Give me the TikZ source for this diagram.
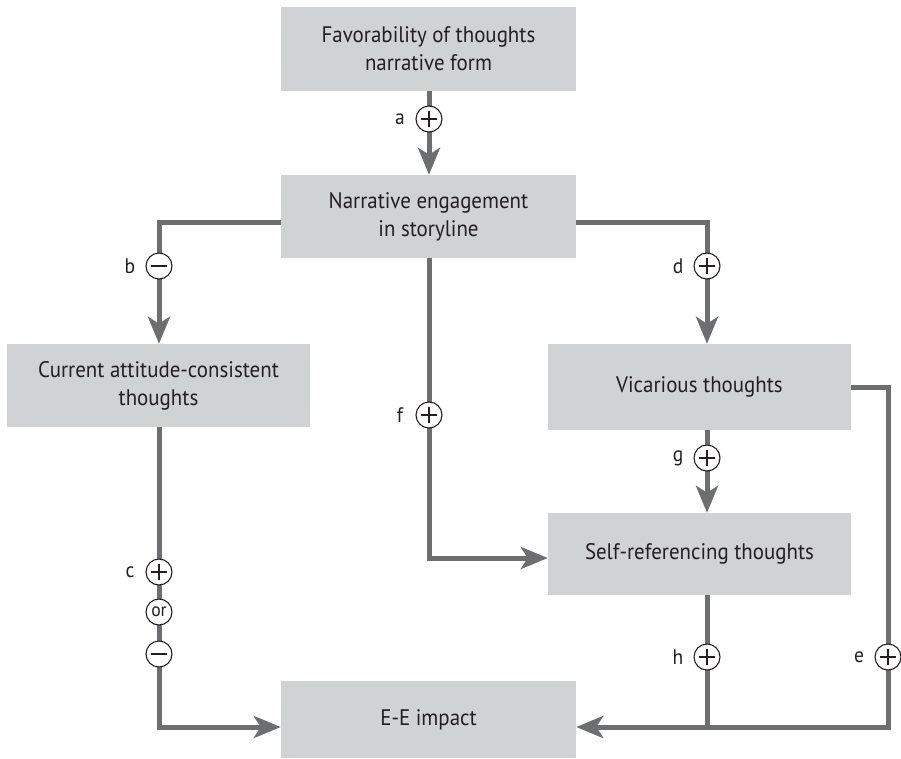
\documentclass[tikz,border=0pt]{standalone}
\usepackage{fontspec}
\setmainfont{PT Sans}[FakeStretch=0.93]
\usetikzlibrary{arrows.meta}
\definecolor{boxgray}{HTML}{D1D2D4}
\definecolor{linegray}{HTML}{6D6E71}
\definecolor{inkdark}{HTML}{231F20}
\tikzset{
  box/.style={rectangle, fill=boxgray, inner sep=0pt, align=center,
    font=\fontsize{22.5}{28}\selectfont, text=inkdark},
  link/.style={draw=linegray, line width=5pt},
  arr/.style={link, -{Stealth[length=27pt, width=22pt, inset=7pt]}},
  sign/.style={circle, draw=inkdark, line width=1.1pt, fill=white,
    minimum size=26pt, inner sep=0pt},
  plussign/.style={sign, path picture={
      \draw[inkdark, line width=1.2pt]
        ([xshift=-8pt]path picture bounding box.center) -- ([xshift=8pt]path picture bounding box.center)
        ([yshift=-8pt]path picture bounding box.center) -- ([yshift=8pt]path picture bounding box.center);}},
  minussign/.style={sign, path picture={
      \draw[inkdark, line width=1.2pt]
        ([xshift=-8pt]path picture bounding box.center) -- ([xshift=8pt]path picture bounding box.center);}},
  orsign/.style={sign, font=\fontsize{19}{19}\selectfont, text=inkdark},
  tag/.style={font=\fontsize{21}{21}\selectfont, text=inkdark, anchor=center}
}
\begin{document}
\begin{tikzpicture}[x=1pt, y=-1pt]
\useasboundingbox (0,0) rectangle (901,758);

% boxes
\node[box, minimum width=295pt, minimum height=84pt] (fav) at (428.5,49)
  {Favorability of thoughts\\narrative form};
\node[box, minimum width=295pt, minimum height=83pt] (narr) at (428.5,216.5)
  {Narrative engagement\\in storyline};
\node[box, minimum width=303pt, minimum height=83pt] (cur) at (158.5,385.5)
  {Current attitude-consistent\\thoughts};
\node[box, minimum width=303pt, minimum height=86pt] (vic) at (699.5,387)
  {Vicarious thoughts};
\node[box, minimum width=303pt, minimum height=82pt] (self) at (699.5,554)
  {Self-referencing thoughts};
\node[box, minimum width=295pt, minimum height=77pt] (ee) at (428.5,719.5)
  {E-E impact};

% turning points of the connectors
\coordinate (aline) at (429,0);
\coordinate (bturn) at (159,222);
\coordinate (dturn) at (707,222);
\coordinate (fturn) at (429,558);
\coordinate (gline) at (707,0);
\coordinate (cturn) at (159,727);
\coordinate (hjoin) at (707,727);
\coordinate (etop) at (888,387);
\coordinate (eturn) at (888,727);

% connectors
\draw[arr] (aline |- fav.south) -- (aline |- narr.north);
\draw[arr] (narr.west |- bturn) -- (bturn) -- (bturn |- cur.north);
\draw[arr] (narr.east |- dturn) -- (dturn) -- (dturn |- vic.north);
\draw[arr] (fturn |- narr.south) -- (fturn) -- (self.west |- fturn);
\draw[arr] (gline |- vic.south) -- (gline |- self.north);
\draw[arr] (cturn |- cur.south) -- (cturn) -- (ee.west |- cturn);
\draw[link] (hjoin |- self.south) -- (hjoin);
\draw[arr] (vic.east |- etop) -- (etop) -- (eturn) -- (ee.east |- eturn);

% signs on the connectors
\node[plussign] (sa) at (429,119) {};
\node[minussign] (sb) at (159,266) {};
\node[plussign] (sd) at (707,266) {};
\node[plussign] (sf) at (429,415) {};
\node[plussign] (sg) at (707,458) {};
\node[plussign] (sc1) at (159,572) {};
\node[orsign] (sc2) at (159,612) {or};
\node[minussign] (sc3) at (159,654) {};
\node[plussign] (sh) at (707,657) {};
\node[plussign] (se) at (888,657) {};

% path letters
\node[tag] (la) at ([xshift=-29pt]sa.center) {a};
\node[tag] (lb) at ([xshift=-29pt]sb.center) {b};
\node[tag] (ld) at ([xshift=-29pt]sd.center) {d};
\node[tag] (lf) at ([xshift=-29pt]sf.center) {f};
\node[tag] (lg) at ([xshift=-29pt]sg.center) {g};
\node[tag] (lc) at ([xshift=-29pt]sc1.center) {c};
\node[tag] (lh) at ([xshift=-29pt]sh.center) {h};
\node[tag] (le) at ([xshift=-29pt]se.center) {e};
\end{tikzpicture}
\end{document}
